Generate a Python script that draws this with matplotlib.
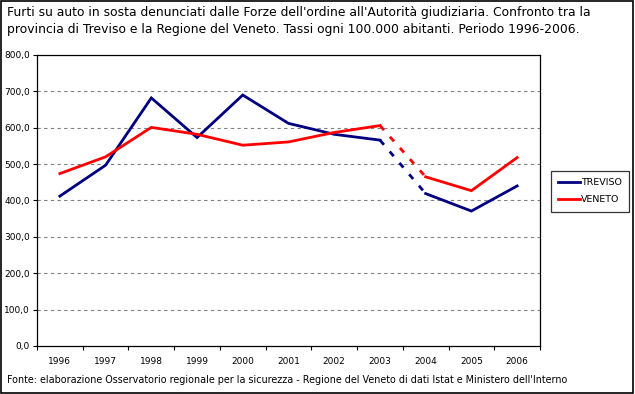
"""Furti su auto in sosta: Treviso vs Veneto, 1996-2006."""

import matplotlib
matplotlib.use("Agg")
import matplotlib.pyplot as plt
from matplotlib.lines import Line2D
from matplotlib.patches import Rectangle

YEARS = ["1996", "1997", "1998", "1999", "2000", "2001",
         "2002", "2003", "2004", "2005", "2006"]
TREVISO = [412, 497, 682, 573, 690, 612, 582, 566, 419, 371, 440]
VENETO = [474, 520, 601, 582, 552, 561, 587, 606, 465, 427, 518]
YTICKS = [0, 100, 200, 300, 400, 500, 600, 700, 800]

TITLE = ("Furti su auto in sosta denunciati dalle Forze dell'ordine all'Autorità giudiziaria. Confronto tra la\n"
         "provincia di Treviso e la Regione del Veneto. Tassi ogni 100.000 abitanti. Periodo 1996-2006.")
SOURCE = ("Fonte: elaborazione Osservatorio regionale per la sicurezza - Regione del Veneto "
          "di dati Istat e Ministero dell'Interno")

COLORS = {"TREVISO": "#000080", "VENETO": "#ff0000"}
BREAK = 7  # index of 2003: the 2003-2004 segment is dashed


def draw_series(ax, vals, color):
    x = list(range(len(vals)))
    kw = dict(color=color, linewidth=2.0, solid_joinstyle="miter")
    ax.plot(x[:BREAK + 1], vals[:BREAK + 1], **kw)
    ax.plot(x[BREAK:BREAK + 2], vals[BREAK:BREAK + 2], linestyle=(0, (2.2, 3.2)), **kw)
    ax.plot(x[BREAK + 1:], vals[BREAK + 1:], **kw)


def main():
    fig = plt.figure(figsize=(6.35, 3.94), dpi=100)
    fig.patches.append(Rectangle((0.001, 0.002), 0.996, 0.996, transform=fig.transFigure,
                                 fill=False, edgecolor="black", linewidth=1.2))
    ax = fig.add_axes([37 / 635, 48 / 394, 503 / 635, 291 / 394])

    draw_series(ax, TREVISO, COLORS["TREVISO"])
    draw_series(ax, VENETO, COLORS["VENETO"])

    ax.set_xlim(-0.5, len(YEARS) - 0.5)
    ax.set_ylim(0, 800)
    ax.set_yticks(YTICKS)
    ax.set_yticklabels([f"{v},0" for v in YTICKS], fontsize=6.5)
    ax.set_xticks([i - 0.5 for i in range(len(YEARS) + 1)])
    ax.set_xticklabels([])
    ax.set_xticks(range(len(YEARS)), minor=True)
    ax.set_xticklabels(YEARS, minor=True, fontsize=6.5)
    ax.tick_params(axis="x", which="minor", length=0, pad=8)
    ax.tick_params(axis="both", which="major", length=3, width=0.8, direction="out")
    ax.tick_params(axis="y", pad=2)
    for v in YTICKS[1:-1]:
        ax.axhline(v, color="#808080", linewidth=0.8, linestyle=(0, (3, 3)), zorder=0)
    for s in ax.spines.values():
        s.set_linewidth(0.9)

    handles = [Line2D([], [], color=COLORS[k], linewidth=2.0) for k in ("TREVISO", "VENETO")]
    fig.legend(handles, ["TREVISO", "VENETO"], loc="upper left",
               bbox_to_anchor=(549 / 635, 1 - 169 / 394), frameon=True, fancybox=False,
               edgecolor="black", fontsize=6.8, handlelength=2.3, handletextpad=0.1,
               labelspacing=0.9, borderpad=0.75, borderaxespad=0.2).get_frame().set_linewidth(0.9)

    fig.text(7 / 635, 1 - 6 / 394, TITLE, fontsize=8.9, va="top", ha="left", linespacing=1.35)
    fig.text(7 / 635, 1 - 380 / 394, SOURCE, fontsize=6.9, va="center", ha="left")

    fig.savefig("out.png", dpi=100)
    plt.close(fig)


if __name__ == "__main__":
    main()
